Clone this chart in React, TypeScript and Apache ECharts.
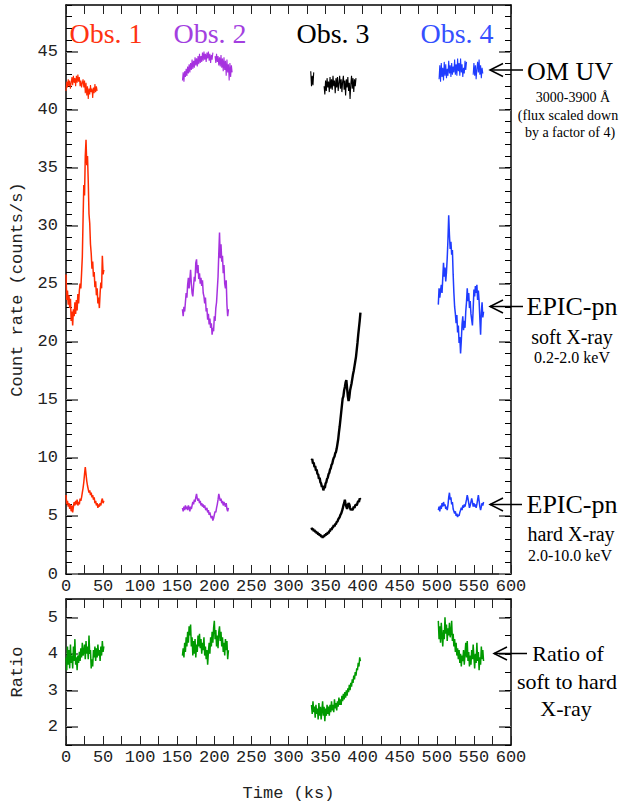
import React, { useEffect, useRef } from "react";
import * as echarts from "echarts";

// ---------- data (time bins of 1 ks) ----------
const BIN_KS = 1;
const X_LABELS = [0, 50, 100, 150, 200, 250, 300, 350, 400, 450, 500, 550, 600];
const Y_TOP_LABELS = [0, 5, 10, 15, 20, 25, 30, 35, 40, 45];
const Y_BOTTOM_LABELS = [2, 3, 4, 5];

// Obs. 1
const obs1Start = 0;
const obs1Uv = [41.6, 42.4, 41.9, 42.6, 42.0, 42.5, 41.8, 42.3, 42.8, 42.1, 42.9, 42.3, 42.7, 42.0, 42.9, 42.3, 43.0, 42.4, 42.8, 42.0, 42.5, 41.9, 42.3, 42.6, 41.9, 42.5, 41.4, 42.3, 41.2, 42.0, 40.9, 41.8, 41.3, 42.1, 41.5, 41.8, 41.0, 41.9, 41.4, 42.2, 41.5, 42.0, 41.6];
const obs1Soft = [25.8, 23.6, 24.4, 23.2, 24.0, 22.9, 23.7, 21.8, 22.6, 21.4, 22.8, 22.2, 23.4, 22.4, 23.6, 22.7, 24.1, 23.3, 24.4, 25.0, 24.6, 25.9, 27.3, 30.5, 33.5, 32.6, 36.0, 37.4, 35.2, 36.0, 33.8, 31.0, 30.2, 28.4, 27.6, 26.3, 26.9, 25.6, 26.0, 24.7, 25.2, 24.0, 24.6, 23.3, 23.8, 22.9, 24.2, 25.1, 24.6, 27.4, 25.8, 26.2];
const obs1Hard = [6.8, 6.0, 6.3, 5.8, 6.1, 5.6, 6.0, 5.4, 5.9, 5.3, 5.8, 6.2, 5.9, 6.3, 6.0, 6.4, 5.9, 6.2, 6.0, 6.5, 6.3, 6.6, 7.0, 7.4, 7.9, 8.6, 9.2, 8.6, 8.0, 7.6, 7.3, 7.0, 7.2, 6.8, 7.0, 6.6, 6.8, 6.4, 6.6, 6.1, 6.3, 5.9, 6.1, 5.7, 6.0, 5.8, 6.1, 5.9, 6.3, 6.5, 6.1, 6.3];
const obs1Ratio = [3.9, 3.55, 4.2, 3.7, 4.1, 3.6, 4.25, 3.75, 3.95, 3.6, 4.2, 3.8, 4.4, 3.7, 3.9, 3.55, 3.95, 3.75, 4.05, 3.8, 4.15, 3.9, 4.3, 3.95, 4.05, 4.25, 3.85, 4.35, 4.0, 4.2, 3.85, 4.5, 4.0, 4.1, 3.6, 3.85, 3.65, 4.1, 3.9, 4.2, 3.8, 4.15, 3.9, 4.25, 3.95, 4.1, 3.8, 4.2, 3.95, 4.35, 4.05, 4.2];

// Obs. 2
const obs2Start = 157;
const obs2Uv = [42.5, 43.2, 42.4, 43.3, 42.8, 43.5, 42.9, 43.7, 43.1, 43.9, 43.2, 44.0, 43.4, 44.3, 43.5, 44.2, 43.6, 44.5, 43.8, 44.4, 43.7, 44.6, 43.9, 44.8, 44.0, 44.6, 44.1, 44.9, 44.2, 45.0, 44.3, 44.8, 44.1, 44.9, 44.4, 45.0, 44.2, 44.8, 44.0, 44.7, 44.3, 44.9, null, null, 44.6, 44.0, 44.8, 44.1, 44.6, 43.8, 44.5, 43.7, 44.7, 43.6, 44.4, 43.3, 44.5, 43.4, 44.2, 42.9, 44.3, 43.2, 43.9, 42.5, 44.0, 42.8, 43.8, 43.2];
const obs2Soft = [22.8, 22.2, 23.0, 22.6, 23.4, 24.2, 23.8, 24.9, 25.5, 24.6, 25.4, 26.2, 25.0, 24.2, 23.9, 24.8, 25.6, 25.2, 26.8, 27.1, 25.9, 26.6, 25.4, 25.9, 25.0, 25.5, 24.8, 25.3, 24.2, 23.9, 23.3, 23.8, 22.6, 22.9, 21.9, 22.4, 21.5, 22.0, 21.2, 21.6, 20.6, 21.2, 20.9, 22.2, 21.8, 22.9, 23.4, 24.5, 25.6, 27.6, 29.4, 27.2, 28.4, 26.9, 27.4, 25.9, 26.6, 25.0, 24.6, 25.3, 23.2, 22.2, 22.8];
const obs2Hard = [5.7, 5.4, 5.8, 5.5, 5.9, 5.6, 5.8, 5.5, 5.9, 5.7, 5.4, 5.8, 5.6, 5.9, 6.2, 6.0, 6.4, 6.2, 6.6, 6.9, 6.5, 6.3, 6.5, 6.1, 6.3, 5.9, 6.1, 5.8, 6.0, 5.7, 5.9, 5.6, 5.5, 5.7, 5.3, 5.5, 5.1, 5.3, 5.0, 4.8, 5.0, 4.6, 4.8, 5.1, 5.4, 5.3, 5.7, 6.0, 6.4, 6.9, 6.6, 6.3, 6.5, 6.1, 6.3, 5.9, 6.2, 6.0, 5.8, 6.1, 5.6, 5.4, 5.7];
const obs2Ratio = [3.95, 4.15, 3.9, 4.3, 4.05, 4.45, 4.2, 4.6, 4.3, 4.75, 4.5, 4.8, 4.2, 4.45, 3.95, 4.35, 4.0, 4.4, 3.9, 4.25, 4.05, 4.5, 4.2, 4.55, 4.15, 4.4, 4.0, 4.3, 4.1, 4.45, 3.95, 4.2, 3.85, 4.1, 3.7, 4.05, 4.3, 4.0, 4.45, 4.2, 4.6, 4.3, 4.7, 4.9, 4.4, 4.65, 4.2, 4.5, 4.15, 4.6, 4.75, 4.35, 4.6, 4.2, 4.45, 4.05, 4.3, 3.95, 4.4, 4.1, 4.35, 3.85, 4.1];

// Obs. 3
const obs3Start = 331;
const obs3UvStart = 330;
const obs3Uv = [43.3, 42.0, 42.9, 42.1, 43.2, null, null, null, null, null, null, null, null, null, null, null, null, null, 42.0, 41.3, 42.5, 41.6, 42.7, 41.9, 42.4, 41.5, 42.8, 41.8, 42.6, 41.7, 42.9, 42.0, 42.5, 41.4, 42.7, 41.9, 42.8, 41.6, 42.3, 42.9, 41.8, 42.6, 41.5, 42.4, 42.9, 41.7, 42.5, 41.2, 42.6, 41.9, 42.8, 41.6, 42.3, 40.9, 42.2, 42.9, 41.8, 42.7, 41.5, 42.6, 42.0, 42.7];
const obs3Soft = [9.8, 9.9, 9.5, 9.6, 9.2, 9.3, 8.9, 9.0, 8.6, 8.6, 8.2, 8.3, 7.9, 7.8, 7.5, 7.6, 7.2, 7.5, 7.4, 7.8, 7.9, 8.2, 8.3, 8.6, 8.7, 9.0, 9.1, 9.4, 9.5, 9.8, 10.0, 10.1, 10.4, 10.5, 10.8, 11.2, 11.6, 12.2, 12.7, 13.3, 13.9, 14.5, 15.1, 15.3, 15.8, 16.1, 16.5, 16.7, 16.0, 15.3, 14.9, 15.2, 15.8, 16.1, 16.4, 16.8, 17.2, 17.5, 17.9, 18.3, 18.7, 19.3, 19.9, 20.6, 21.2, 21.8, 22.5];
const obs3Hard = [4.0, 3.8, 3.9, 3.7, 3.8, 3.6, 3.7, 3.5, 3.6, 3.4, 3.5, 3.3, 3.4, 3.2, 3.3, 3.1, 3.3, 3.2, 3.4, 3.3, 3.5, 3.4, 3.6, 3.5, 3.7, 3.7, 3.9, 3.8, 4.0, 4.0, 4.2, 4.1, 4.3, 4.3, 4.5, 4.5, 4.7, 4.8, 4.9, 5.1, 5.2, 5.4, 5.6, 5.9, 6.1, 6.4, 6.0, 5.8, 5.6, 5.9, 6.1, 6.0, 5.7, 5.5, 5.6, 5.5, 5.6, 5.8, 5.7, 5.9, 6.0, 5.9, 6.1, 6.3, 6.2, 6.5, 6.4];
const obs3Ratio = [2.6, 2.35, 2.7, 2.4, 2.55, 2.25, 2.6, 2.35, 2.5, 2.2, 2.65, 2.3, 2.55, 2.2, 2.45, 2.7, 2.3, 2.55, 2.15, 2.5, 2.3, 2.6, 2.35, 2.55, 2.3, 2.6, 2.4, 2.7, 2.45, 2.6, 2.4, 2.75, 2.5, 2.65, 2.45, 2.7, 2.55, 2.8, 2.6, 2.75, 2.6, 2.85, 2.7, 2.9, 2.75, 2.95, 2.8, 3.0, 2.85, 3.05, 2.95, 3.15, 3.0, 3.2, 3.1, 3.3, 3.2, 3.4, 3.3, 3.5, 3.4, 3.6, 3.55, 3.75, 3.65, 3.9, 3.8];

// Obs. 4
const obs4Start = 502;
const obs4UvStart = 503;
const obs4Uv = [42.6, 43.8, 42.4, 44.0, 42.8, 43.6, 42.5, 44.1, 42.9, 43.9, 42.7, 43.5, 42.9, 44.2, 43.1, 43.8, 42.8, 44.0, 43.0, 43.7, 43.2, 44.3, 43.0, 43.9, 42.9, 44.4, 43.3, 44.0, 42.9, 44.4, 43.2, 43.9, 42.8, 43.6, 43.1, 44.2, 43.4, 44.1, null, null, null, null, null, null, null, null, 43.0, 44.0, 42.9, 43.8, 42.6, 43.5, 44.1, 43.2, 44.3, 43.0, 43.8, 42.7, 43.6, 43.1];
const obs4Soft = [23.2, 24.6, 23.8, 24.4, 24.9, 24.2, 25.5, 26.8, 25.6, 26.4, 25.2, 26.0, 27.2, 28.8, 30.9, 29.2, 28.0, 28.6, 27.5, 27.9, 25.8, 24.2, 23.0, 22.4, 21.6, 22.3, 20.8, 21.4, 19.9, 20.4, 19.0, 20.1, 21.5, 22.2, 21.0, 21.8, 21.2, 22.6, 23.4, 24.6, 23.5, 24.2, 22.9, 23.5, 22.4, 21.9, 21.4, 22.8, 24.5, 23.9, 24.8, 24.2, 24.9, 23.6, 24.4, 23.5, 22.0, 20.6, 22.5, 23.4, 22.1, 22.6];
const obs4Hard = [5.5, 5.8, 5.4, 5.9, 5.6, 6.1, 5.8, 6.2, 5.9, 6.0, 5.6, 5.8, 5.5, 5.9, 6.6, 7.0, 6.4, 6.6, 6.0, 6.2, 5.6, 5.4, 5.2, 5.4, 5.0, 5.2, 4.9, 5.1, 5.0, 5.3, 5.5, 5.7, 5.5, 5.9, 5.7, 6.0, 5.8, 6.1, 6.4, 6.8, 6.5, 6.1, 5.7, 5.9, 6.2, 6.5, 6.2, 5.8, 6.1, 5.8, 6.0, 5.7, 6.0, 6.4, 6.8, 6.3, 5.8, 5.5, 5.8, 6.1, 5.9, 6.2];
const obs4Ratio = [4.9, 4.4, 4.75, 4.3, 4.85, 4.5, 4.2, 4.65, 4.4, 5.0, 4.55, 4.8, 4.35, 4.7, 4.5, 4.85, 4.45, 4.6, 4.9, 4.35, 4.55, 4.2, 4.4, 4.05, 4.3, 3.95, 4.15, 3.85, 4.1, 3.75, 4.0, 3.65, 3.95, 3.8, 4.1, 3.7, 4.0, 4.3, 3.9, 4.35, 3.8, 4.05, 3.65, 3.95, 3.7, 4.1, 3.85, 4.25, 3.9, 3.6, 4.0, 3.75, 4.3, 3.8, 4.05, 3.55, 3.9, 3.7, 4.2, 3.85, 4.1, 3.8];

// ---------- styling ----------
const RED = "#ff2a00";
const PURPLE = "#a632df";
const BLACK = "#000000";
const BLUE = "#1f3cff";
const GREEN = "#009a00";
const MONO = "'Liberation Mono', 'Courier New', monospace";
const SERIF = "'Liberation Serif', 'Times New Roman', serif";

const toPairs = (t0: number, vals: (number | null)[]) =>
  vals.map((v, i) => [t0 + i * BIN_KS, v]);

const line = (data: any[], color: string, width: number, xi: number, yi: number) => ({
  type: "line",
  data: toPairs(data[0], data[1]),
  xAxisIndex: xi,
  yAxisIndex: yi,
  showSymbol: false,
  symbol: "none",
  connectNulls: false,
  silent: true,
  lineStyle: { color, width },
  itemStyle: { color },
});

const xAxesFor = (gridIndex: number, name?: string) => [
  {
    type: "value", gridIndex, min: 0, max: 600, interval: 25, position: "bottom",
    axisLine: { show: true, onZero: false, lineStyle: { color: "#000", width: 1.5 } },
    axisTick: { show: true, inside: true, length: 9, lineStyle: { color: "#222", width: 1 } },
    axisLabel: { show: true, customValues: X_LABELS, margin: 4, fontFamily: MONO, fontSize: 17, color: "#222" },
    splitLine: { show: false },
    name: name || "", nameLocation: "middle", nameGap: 40,
    nameTextStyle: { fontFamily: MONO, fontSize: 17, color: "#222" },
  },
  {
    type: "value", gridIndex, min: 0, max: 600, interval: 25, position: "top",
    axisLine: { show: true, onZero: false, lineStyle: { color: "#000", width: 1.5 } },
    axisTick: { show: true, inside: true, length: 9, lineStyle: { color: "#222", width: 1 } },
    axisLabel: { show: false },
    splitLine: { show: false },
  },
];

const yAxesFor = (gridIndex: number, min: number, max: number, minorStep: number, labels: number[], name: string) => {
  const major = (position: string, withLabels: boolean) => ({
    type: "value", gridIndex, min, max, position,
    axisLine: { show: true, onZero: false, lineStyle: { color: "#000", width: 1.5 } },
    axisTick: { show: true, inside: true, length: 12, customValues: labels, lineStyle: { color: "#777", width: 2 } },
    axisLabel: withLabels
      ? { show: true, customValues: labels, margin: 8, fontFamily: MONO, fontSize: 17, color: "#222" }
      : { show: false },
    splitLine: { show: false },
    name: withLabels ? name : "",
    nameLocation: "middle", nameRotate: 90, nameGap: 40,
    nameTextStyle: { fontFamily: MONO, fontSize: 17, color: "#222" },
  });
  const minor = (position: string) => ({
    type: "value", gridIndex, min, max, interval: minorStep, position,
    axisLine: { show: false, onZero: false },
    axisTick: { show: true, inside: true, length: 6, lineStyle: { color: "#000", width: 1 } },
    axisLabel: { show: false },
    splitLine: { show: false },
  });
  return [major("left", true), minor("left"), major("right", false), minor("right")];
};

const txt = (text: string, x: number, y: number, size: number, color = "#000", family = SERIF) => ({
  type: "text", x, y, z: 100,
  style: { text, fill: color, font: `${size}px ${family}`, align: "center", verticalAlign: "middle" },
});

const arrow = (tipX: number, y: number, tailX: number) => [
  { type: "line", z: 100, shape: { x1: tipX, y1: y, x2: tailX, y2: y }, style: { stroke: "#000", lineWidth: 1.5 } },
  { type: "polyline", z: 100, shape: { points: [[tipX + 13, y - 6.5], [tipX, y], [tipX + 13, y + 6.5]] }, style: { stroke: "#000", lineWidth: 1.5, fill: null } },
];

export default function App() {
  const ref = useRef<HTMLDivElement>(null);
  useEffect(() => {
    if (!ref.current) return;
    const chart = echarts.init(ref.current, null, { renderer: "svg" });
    const option: any = {
      animation: false,
      backgroundColor: "#ffffff",
      grid: [
        { left: 66, top: 5, width: 445, height: 569 },
        { left: 66, top: 599, width: 445, height: 146 },
      ],
      xAxis: [...xAxesFor(0), ...xAxesFor(1, "Time (ks)")],
      yAxis: [
        ...yAxesFor(0, 0, 49, 1, Y_TOP_LABELS, "Count rate (counts/s)"),
        ...yAxesFor(1, 1.5, 5.5, 0.5, Y_BOTTOM_LABELS, "Ratio"),
      ],
      series: [
        line([obs1Start, obs1Uv], RED, 1.1, 0, 0),
        line([obs1Start, obs1Soft], RED, 1.5, 0, 0),
        line([obs1Start, obs1Hard], RED, 1.5, 0, 0),
        line([obs1Start, obs1Ratio], GREEN, 1.5, 2, 4),
        line([obs2Start, obs2Uv], PURPLE, 1.1, 0, 0),
        line([obs2Start, obs2Soft], PURPLE, 1.5, 0, 0),
        line([obs2Start, obs2Hard], PURPLE, 1.5, 0, 0),
        line([obs2Start, obs2Ratio], GREEN, 1.5, 2, 4),
        line([obs3UvStart, obs3Uv], BLACK, 1.1, 0, 0),
        line([obs3Start, obs3Soft], BLACK, 2.4, 0, 0),
        line([obs3Start, obs3Hard], BLACK, 2.4, 0, 0),
        line([obs3Start, obs3Ratio], GREEN, 1.5, 2, 4),
        line([obs4UvStart, obs4Uv], BLUE, 1.1, 0, 0),
        line([obs4Start, obs4Soft], BLUE, 1.5, 0, 0),
        line([obs4Start, obs4Hard], BLUE, 1.5, 0, 0),
        line([obs4Start, obs4Ratio], GREEN, 1.5, 2, 4),
      ],
      graphic: [
        txt("Obs. 1", 106, 33, 28, "#ff3311"),
        txt("Obs. 2", 210, 33, 28, "#a33fe0"),
        txt("Obs. 3", 333, 33, 28, "#000"),
        txt("Obs. 4", 457, 33, 28, "#3550ff"),
        ...arrow(490, 70, 523),
        txt("OM UV", 570, 71, 26),
        txt("3000-3900 Å", 573, 97, 14),
        txt("(flux scaled down", 568, 115, 14),
        txt("by a factor of 4)", 570, 132, 14),
        ...arrow(490, 306.5, 523),
        txt("EPIC-pn", 572, 306, 26),
        txt("soft X-ray", 572, 337, 20),
        txt("0.2-2.0 keV", 572, 357, 16),
        ...arrow(490, 504.5, 522),
        txt("EPIC-pn", 572, 504, 26),
        txt("hard X-ray", 571, 534, 20),
        txt("2.0-10.0 keV", 570, 555, 16),
        ...arrow(494, 653.5, 527),
        txt("Ratio of", 568, 653, 22),
        txt("soft to hard", 567, 681, 22),
        txt("X-ray", 566, 708, 22),
      ],
    };
    chart.setOption(option);
    return () => chart.dispose();
  }, []);
  return (
    <div
      ref={ref}
      style={{ position: "fixed", left: 0, top: 0, width: 621, height: 808, background: "#fff" }}
    />
  );
}
